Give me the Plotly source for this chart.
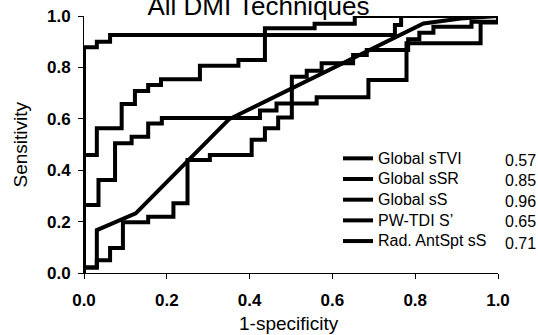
import plotly.graph_objects as go

# ---- data ----
labels = ["Global sTVI", "Global sSR", "Global sS", "PW-TDI S\u2019", "Rad. AntSpt sS"]
auc_values = ["0.57", "0.85", "0.96", "0.65", "0.71"]

# Global sTVI (lowest staircase)
stvi_x = [0, 0, 0.031, 0.031, 0.063, 0.063, 0.094, 0.094, 0.155, 0.155, 0.216, 0.216, 0.25, 0.25,
          0.304, 0.304, 0.405, 0.405, 0.437, 0.437, 0.469, 0.469, 0.502, 0.502, 0.538, 0.538,
          0.574, 0.574, 0.65, 0.65, 0.683, 0.683, 0.783, 0.783, 0.81, 0.81, 0.844, 0.844,
          0.936, 0.936, 1.0, 1.0]
stvi_y = [0, 0.021, 0.021, 0.05, 0.05, 0.097, 0.097, 0.197, 0.197, 0.219, 0.219, 0.271, 0.271, 0.44,
          0.44, 0.459, 0.459, 0.518, 0.518, 0.563, 0.563, 0.605, 0.605, 0.764, 0.764, 0.787,
          0.787, 0.816, 0.816, 0.848, 0.848, 0.868, 0.868, 0.91, 0.91, 0.935, 0.935, 0.958,
          0.958, 0.978, 0.978, 1.0]

# Global sSR
ssr_x = [0, 0, 0.031, 0.031, 0.091, 0.091, 0.123, 0.123, 0.155, 0.155, 0.186, 0.186, 0.28, 0.28,
         0.373, 0.373, 0.437, 0.437, 0.557, 0.557, 0.654, 0.654, 1.0]
ssr_y = [0, 0.459, 0.459, 0.563, 0.563, 0.658, 0.658, 0.708, 0.708, 0.732, 0.732, 0.754, 0.754,
         0.806, 0.806, 0.829, 0.829, 0.952, 0.952, 0.97, 0.97, 1.0, 1.0]

# Global sS (top curve)
ss_x = [0, 0, 0.031, 0.031, 0.063, 0.063, 0.751, 0.751, 0.766, 0.766, 1.0]
ss_y = [0, 0.878, 0.878, 0.90, 0.90, 0.926, 0.926, 0.965, 0.965, 1.0, 1.0]

# PW-TDI S' (few thresholds, straight segments)
pw_x = [0, 0, 0.031, 0.031, 0.125, 0.35, 0.82, 0.91, 1.0]
pw_y = [0, 0.021, 0.021, 0.167, 0.232, 0.598, 0.971, 0.99, 1.0]

# Rad. AntSpt sS (plateau near 0.6)
rad_x = [0, 0, 0.035, 0.035, 0.075, 0.075, 0.115, 0.115, 0.155, 0.155, 0.188, 0.188, 0.425, 0.425,
         0.465, 0.465, 0.562, 0.562, 0.687, 0.687, 0.779, 0.779, 0.958, 0.958, 1.0, 1.0]
rad_y = [0, 0.265, 0.265, 0.362, 0.362, 0.505, 0.505, 0.53, 0.53, 0.582, 0.582, 0.603, 0.603, 0.632,
         0.632, 0.66, 0.66, 0.684, 0.684, 0.751, 0.751, 0.894, 0.894, 0.975, 0.975, 1.0]

xticks = [0, 0.2, 0.4, 0.6, 0.8, 1.0]
yticks = [0, 0.2, 0.4, 0.6, 0.8, 1.0]

series = [(stvi_x, stvi_y), (ssr_x, ssr_y), (ss_x, ss_y), (pw_x, pw_y), (rad_x, rad_y)]

FONT = "Arial, Liberation Sans, sans-serif"
W, H = 538, 335
L, R, T, B = 84, 40, 16, 62
pw_px = W - L - R
ph_px = H - T - B

fig = go.Figure()
for (xs, ys), name in zip(series, labels):
    fig.add_trace(go.Scatter(x=xs, y=ys, mode="lines",
                             name='<span style="font-size:16px">' + name + '</span>',
                             line=dict(color="black", width=4),
                             cliponaxis=False, hoverinfo="skip"))

# AUC values beside the legend rows
row_px = [160.7, 180.7, 201.0, 221.7, 243.3]
for val, py in zip(auc_values, row_px):
    fig.add_annotation(x=(503 - L) / pw_px, y=(H - B - py) / ph_px, xref="paper", yref="paper",
                       text=val, showarrow=False, xanchor="left", yanchor="middle",
                       font=dict(family=FONT, size=16, color="black"))

# axis titles
fig.add_annotation(x=(289 - L) / pw_px, y=(H - B - 323) / ph_px, xref="paper", yref="paper",
                   text="1-specificity", showarrow=False, xanchor="center", yanchor="middle",
                   font=dict(family=FONT, size=19, color="black"))
fig.add_annotation(x=(20 - L) / pw_px, y=0.5, xref="paper", yref="paper",
                   text="Sensitivity", showarrow=False, textangle=-90,
                   xanchor="center", yanchor="middle",
                   font=dict(family=FONT, size=19, color="black"))

fig.update_layout(
    template="none",
    width=W, height=H,
    margin=dict(l=L, r=R, t=T, b=B, pad=0, autoexpand=False),
    paper_bgcolor="white", plot_bgcolor="white",
    title=dict(text="All DMI Techniques", x=258.5 / W, xref="container", xanchor="center",
               y=1 - 15 / H, yref="container", yanchor="bottom",
               font=dict(family=FONT, size=26, color="black")),
    showlegend=True,
    legend=dict(x=(338 - L) / pw_px, y=(H - B - 143) / ph_px, xanchor="left", yanchor="top",
                bgcolor="rgba(0,0,0,0)", borderwidth=0,
                font=dict(family=FONT, size=13.6, color="black"), tracegroupgap=0),
    xaxis=dict(range=[0, 1], tickvals=xticks, tickformat=".1f", showgrid=False, zeroline=False,
               automargin=False,
               showline=True, linecolor="black", linewidth=1, ticks="outside", ticklen=5,
               tickwidth=1, tickcolor="black", ticklabelstandoff=7,
               tickfont=dict(family=FONT, size=17, color="black", weight="bold")),
    yaxis=dict(range=[0, 1], tickvals=yticks, tickformat=".1f", showgrid=False, zeroline=False,
               automargin=False,
               showline=True, linecolor="black", linewidth=1, ticks="outside", ticklen=5,
               tickwidth=1, tickcolor="black", ticklabelstandoff=4,
               tickfont=dict(family=FONT, size=17, color="black", weight="bold")),
)

fig.write_html("out.html", config={"displayModeBar": False},
               post_script="document.body.style.margin='0px';")
